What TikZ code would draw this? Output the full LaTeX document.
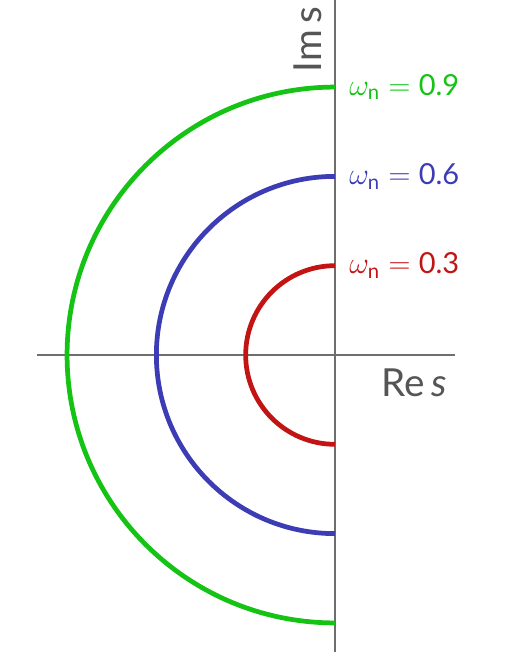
\documentclass[tikz,border=0pt]{standalone}
\usepackage{amsmath}
\usepackage{fontspec}
\setmainfont{Lato}
\definecolor{axisgray}{RGB}{110,110,110}
\definecolor{labelgray}{RGB}{85,85,85}
\definecolor{wngreen}{RGB}{20,195,20}
\definecolor{wnblue}{RGB}{60,60,180}
\definecolor{wnred}{RGB}{195,20,20}
\newcommand{\wnlabel}[1]{$\omega_{\text{n}} = \text{#1}$}

\begin{document}
\begin{tikzpicture}[x=5.954cm,y=5.954cm,
    axis/.style={draw=axisgray,line width=0.8pt},
    pole/.style={line width=2.7pt},
    axlabel/.style={text=labelgray,font=\fontsize{22}{26}\selectfont,inner sep=0pt},
    wnlabel/.style={right,font=\fontsize{16.5}{20}\selectfont,inner sep=0pt,xshift=0.28cm}]
  \useasboundingbox (-1.1253,-1.0346) rectangle (0.6147,1.1925);
  % axes
  \coordinate (O) at (0,0);
  \coordinate (xmin) at (-1,0);
  \coordinate (xmax) at (0.403,0);
  \coordinate (ymin) at (0,-0.998);
  \coordinate (ymax) at (0,1.1925);
  \draw[axis] (xmin) -- (xmax);
  \draw[axis] (ymin) -- (ymax);
  \node[axlabel] (re) at (0.265,-0.094) {Re\,\textit{s}};
  \node[axlabel,rotate=90] (im) at (-0.092,1.06) {Im\,s};
  % loci of the poles
  \foreach \r/\col/\nm in {0.3/wnred/low,0.6/wnblue/mid,0.9/wngreen/high}{
    \coordinate (top\nm) at (0,\r);
    \draw[pole,\col] (top\nm) arc[start angle=90,end angle=270,radius=\r];
    \node[wnlabel,text=\col] (lab\nm) at (top\nm) {\wnlabel{\r}};
  }
\end{tikzpicture}
\end{document}
